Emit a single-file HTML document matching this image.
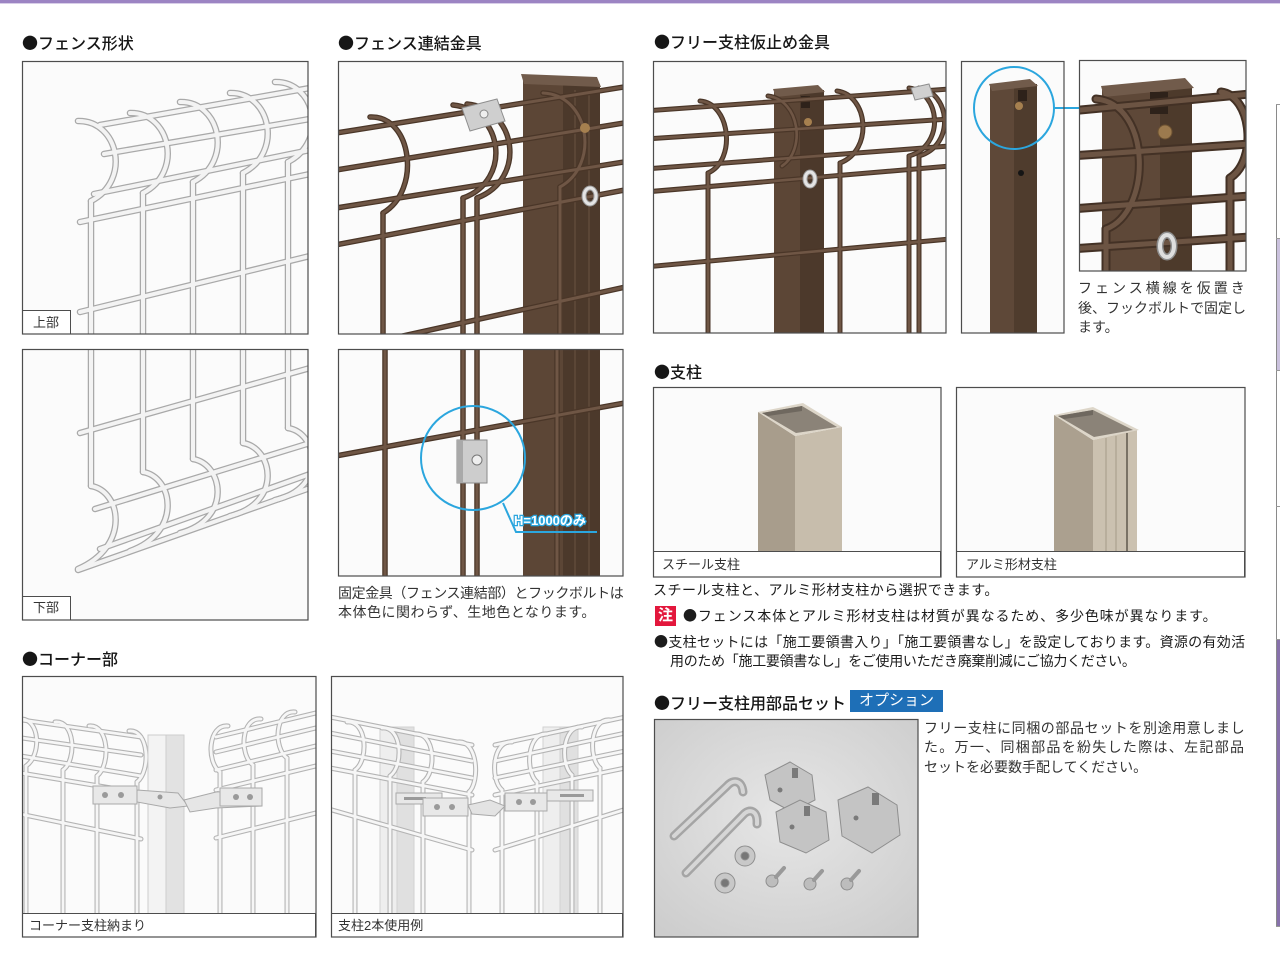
<!DOCTYPE html>
<html><head><meta charset="utf-8">
<style>
html,body{margin:0;padding:0}
body{width:1280px;height:963px;position:relative;overflow:hidden;background:#fff;font-family:"Liberation Sans","Noto Sans CJK JP",sans-serif;color:#222}
svg{position:absolute;left:0;top:0}
.t{position:absolute;white-space:nowrap;line-height:1.2}
.h{font-size:16px;color:#161616;font-weight:500}
.p{font-size:14px;color:#1c1c1c}
.c{font-size:14px;color:#333}
.l{font-size:13px;color:#333}
.b{font-family:"Noto Sans CJK JP",sans-serif}
.note{position:absolute;left:655px;top:606px;width:21px;height:20px;background:#e3173c;color:#fff;font-size:15px;font-weight:bold;line-height:20px;text-align:center}
.opt{position:absolute;left:850px;top:690px;width:93px;height:22px;background:#1e6fb7;color:#fff;font-size:15px;line-height:22px;text-align:center}
</style></head><body>
<svg width="1280" height="963" viewBox="0 0 1280 963">
<defs>
 <clipPath id="c1"><rect x="22" y="61" width="286" height="273"/></clipPath>
 <clipPath id="c2"><rect x="22" y="349" width="286" height="271"/></clipPath>
 <clipPath id="c3"><rect x="338" y="61" width="285" height="273"/></clipPath>
 <clipPath id="c4"><rect x="338" y="349" width="285" height="227"/></clipPath>
 <clipPath id="c5"><rect x="653" y="61" width="293" height="272"/></clipPath>
 <clipPath id="c6"><rect x="961" y="61" width="103" height="272"/></clipPath>
 <clipPath id="c7"><rect x="1079" y="60" width="167" height="211"/></clipPath>
 <clipPath id="c8"><rect x="653" y="387" width="288" height="164"/></clipPath>
 <clipPath id="c9"><rect x="956" y="387" width="289" height="164"/></clipPath>
 <clipPath id="c10"><rect x="654" y="719" width="264" height="218"/></clipPath>
 <clipPath id="c11"><rect x="22" y="676" width="294" height="237"/></clipPath>
 <clipPath id="c12"><rect x="331" y="676" width="292" height="237"/></clipPath>
 <radialGradient id="pg" cx="0.5" cy="0.45" r="0.7">
  <stop offset="0" stop-color="#e6e6e6"/><stop offset="1" stop-color="#cdcdcd"/>
 </radialGradient>

 <g id="w1" fill="none" stroke-linecap="round">
  <path d="M100,125 L310,88"/><path d="M104,154 L310,119"/><path d="M94,194 L310,150"/>
  <path d="M80,222 L310,174"/><path d="M80,312 L310,256"/>
  <path d="M91,201 V340"/><path d="M143,193 V340"/><path d="M193,182 V340"/><path d="M243,173 V340"/><path d="M288,162 V340"/>
  <path d="M78,121 C118,120 132,180 91,201"/>
  <path d="M130,113 C170,112 184,172 143,193"/>
  <path d="M180,102 C220,101 234,161 193,182"/>
  <path d="M230,93 C270,92 284,152 243,173"/>
  <path d="M275,82 C315,81 329,141 288,162"/>
 </g>
 <g id="w2" fill="none" stroke-linecap="round">
  <path d="M91,345 V486"/><path d="M143,345 V472"/><path d="M193,345 V459"/><path d="M243,345 V443"/><path d="M288,345 V428"/>
  <path d="M91,486 C121,491 131,546 78,569"/>
  <path d="M143,472 C173,477 183,532 130,551"/>
  <path d="M193,459 C223,464 233,519 180,533"/>
  <path d="M243,443 C273,448 283,503 230,516"/>
  <path d="M288,428 C318,433 328,488 275,500"/>
  <path d="M80,433 L310,368"/><path d="M95,509 L310,443"/><path d="M78,570 L310,488"/><path d="M100,549 L310,474"/>
 </g>
 <g id="w3" fill="none" stroke-linecap="round">
  <path d="M330,134 L630,86"/><path d="M330,171 L630,122"/><path d="M330,209 L630,161"/>
  <path d="M330,246 L630,189"/><path d="M330,352 L630,286"/>
  <path d="M383,213 V340"/><path d="M463,198 V340"/><path d="M477,198 V340"/><path d="M560,187 V340"/>
  <path d="M370,117 C412,115 422,190 383,213"/>
  <path d="M453,105 C503,110 513,180 463,198"/>
  <path d="M467,104 C517,109 527,179 477,198"/>
  <path d="M543,93 C590,95 600,165 560,187"/>
 </g>
 <g id="w4" fill="none" stroke-linecap="round">
  <path d="M385,340 V580"/><path d="M463,340 V580"/><path d="M477,340 V580"/><path d="M557,340 V580"/>
  <path d="M330,457 L630,402"/>
 </g>
 <g id="w5" fill="none" stroke-linecap="round">
  <path d="M645,111 L950,89"/><path d="M645,139 L950,119"/><path d="M645,169 L950,146"/>
  <path d="M645,192 L950,166"/><path d="M645,267 L950,239"/>
  <path d="M708,173 V340"/><path d="M840,163 V340"/><path d="M909,156 V340"/><path d="M919,156 V340"/>
  <path d="M700,101 C730,103 737,160 708,173"/>
  <path d="M768,96 C800,100 806,150 782,166"/>
  <path d="M837,91 C868,95 874,150 840,163"/>
  <path d="M909,88 C940,92 946,145 909,156"/>
  <path d="M919,88 C950,92 956,145 919,156"/>
 </g>
 <g id="w7" fill="none" stroke-linecap="round">
  <path d="M1070,111 L1250,94"/><path d="M1070,156 L1250,144"/><path d="M1070,209 L1250,196"/><path d="M1070,249 L1250,237"/>
  <path d="M1096,99 C1152,104 1152,212 1106,229"/><path d="M1106,229 V280"/>
  <path d="M1221,92 C1252,96 1258,160 1230,178"/><path d="M1230,178 V280"/>
 </g>
 <g id="w11" fill="none" stroke-linecap="round">
  <path d="M15,719 L141,737"/><path d="M15,737 L141,755"/><path d="M15,755 L141,776"/><path d="M15,772 L141,793"/><path d="M15,813 L141,839"/>
  <path d="M26,766 V913"/><path d="M63,770 V913"/><path d="M97,776 V913"/><path d="M137,782 V913"/>
  <path d="M20,719 C40,718 42,755 26,766"/>
  <path d="M55,722 C75,720 77,760 63,770"/>
  <path d="M89,726 C109,724 111,765 97,776"/>
  <path d="M129,731 C149,729 151,771 137,782"/>
  <path d="M216,737 L320,712"/><path d="M216,752 L320,727"/><path d="M216,770 L320,745"/><path d="M216,790 L320,765"/><path d="M216,838 L320,812"/>
  <path d="M220,772 V913"/><path d="M253,765 V913"/><path d="M287,758 V913"/>
  <path d="M228,726 C208,724 206,762 220,772"/>
  <path d="M261,719 C241,717 239,755 253,765"/>
  <path d="M295,712 C275,710 273,748 287,758"/>
 </g>
 <g id="w12" fill="none" stroke-linecap="round">
  <path d="M325,716 L472,745"/><path d="M325,732 L472,761"/><path d="M325,750 L472,778"/><path d="M325,767 L472,795"/><path d="M325,808 L472,850"/>
  <path d="M355,770 V913"/><path d="M390,776 V913"/><path d="M423,782 V913"/><path d="M469,792 V913"/>
  <path d="M347,722 C367,720 369,760 355,770"/>
  <path d="M382,728 C402,726 404,766 390,776"/>
  <path d="M415,734 C435,732 437,772 423,782"/>
  <path d="M458,742 C478,740 480,782 469,792"/>
  <path d="M495,745 L630,716"/><path d="M495,761 L630,732"/><path d="M495,778 L630,750"/><path d="M495,795 L630,767"/><path d="M495,850 L630,808"/>
  <path d="M502,790 V913"/><path d="M537,782 V913"/><path d="M572,775 V913"/><path d="M600,768 V913"/>
  <path d="M512,742 C492,740 490,780 502,790"/>
  <path d="M547,734 C527,732 525,772 537,782"/>
  <path d="M582,727 C562,725 560,765 572,775"/>
  <path d="M610,720 C590,718 588,758 600,768"/>
 </g>
</defs>

<!-- top bar -->
<rect x="0" y="0" width="1280" height="3" fill="#9c84c3"/>
<rect x="0" y="3" width="1280" height="1" fill="#d8cee8"/>

<!-- right strip -->
<line x1="1276.5" y1="104" x2="1276.5" y2="926" stroke="#8a8a8a"/>
<rect x="1277" y="238" width="3" height="132" fill="#cbc2de"/>
<rect x="1277" y="639" width="3" height="287" fill="#8771ab"/>
<g stroke="#999"><line x1="1276" y1="104.5" x2="1280" y2="104.5"/><line x1="1276" y1="238.5" x2="1280" y2="238.5"/><line x1="1276" y1="370.5" x2="1280" y2="370.5"/><line x1="1276" y1="506.5" x2="1280" y2="506.5"/><line x1="1276" y1="639.5" x2="1280" y2="639.5"/><line x1="1276" y1="926.5" x2="1280" y2="926.5"/></g>

<!-- Panel 1 -->
<g clip-path="url(#c1)">
 <rect x="22" y="61" width="286" height="273" fill="#fbfbfb"/>
 <use href="#w1" stroke="#a9a9a9" stroke-width="6.5"/>
 <use href="#w1" stroke="#f3f3f3" stroke-width="4"/>
</g>
<!-- Panel 2 -->
<g clip-path="url(#c2)">
 <rect x="22" y="349" width="286" height="271" fill="#fbfbfb"/>
 <use href="#w2" stroke="#a9a9a9" stroke-width="6.5"/>
 <use href="#w2" stroke="#f3f3f3" stroke-width="4"/>
</g>

<!-- Panel 3 -->
<g clip-path="url(#c3)">
 <rect x="338" y="61" width="285" height="273" fill="#fbfbfb"/>
 <rect x="523" y="80" width="40" height="260" fill="#5c4636"/>
 <rect x="563" y="84" width="37" height="256" fill="#4c392b"/>
 <line x1="575" y1="90" x2="575" y2="340" stroke="#6a5342"/>
 <line x1="589" y1="90" x2="589" y2="340" stroke="#6a5342"/>
 <polygon points="521,74 597,77 601,87 524,84" fill="#715b4b"/>
 <use href="#w3" stroke="#4a3628" stroke-width="5.5"/>
 <use href="#w3" stroke="#6f5645" stroke-width="3"/>
 <polygon points="462,108 497,99 505,121 470,131" fill="#cfcfcf" stroke="#8e8e8e"/>
 <circle cx="484" cy="114" r="4" fill="#eee" stroke="#888"/>
 <circle cx="585" cy="128" r="5" fill="#a6804f"/>
 <ellipse cx="590" cy="196" rx="6" ry="8" fill="none" stroke="#9a9a9a" stroke-width="5"/>
 <ellipse cx="590" cy="196" rx="6" ry="8" fill="none" stroke="#e4e4e4" stroke-width="3"/>
</g>

<!-- Panel 4 -->
<g clip-path="url(#c4)">
 <rect x="338" y="349" width="285" height="227" fill="#fbfbfb"/>
 <rect x="523" y="340" width="40" height="240" fill="#5c4636"/>
 <rect x="563" y="340" width="37" height="240" fill="#4c392b"/>
 <line x1="575" y1="340" x2="575" y2="580" stroke="#6a5342"/>
 <line x1="589" y1="340" x2="589" y2="580" stroke="#6a5342"/>
 <use href="#w4" stroke="#4a3628" stroke-width="5.5"/>
 <use href="#w4" stroke="#6f5645" stroke-width="3"/>
 <rect x="457" y="440" width="30" height="43" fill="#cdcdcd" stroke="#8a8a8a"/>
 <rect x="457" y="440" width="6" height="43" fill="#a9a9a9"/>
 <circle cx="477" cy="460" r="5" fill="#eee" stroke="#777"/>
 <circle cx="473" cy="458" r="52" fill="none" stroke="#2ba6de" stroke-width="2"/>
 <polyline points="503,503 516,532 597,532" fill="none" stroke="#2ba6de" stroke-width="2"/>
 <text x="514" y="525" font-size="13" font-weight="bold" fill="#fff" stroke="#2ba6de" stroke-width="2.5" paint-order="stroke" font-family="Liberation Sans, Noto Sans CJK JP, sans-serif">H=1000のみ</text>
</g>

<!-- Panel 5 -->
<g clip-path="url(#c5)">
 <rect x="653" y="61" width="293" height="272" fill="#fbfbfb"/>
 <rect x="774" y="92" width="26" height="250" fill="#5c4636"/>
 <rect x="800" y="90" width="24" height="252" fill="#4c392b"/>
 <polygon points="773,89 818,85 825,92 776,97" fill="#715b4b"/>
 <rect x="801" y="96" width="9" height="12" fill="#2e221a"/>
 <use href="#w5" stroke="#4a3628" stroke-width="5"/>
 <use href="#w5" stroke="#6f5645" stroke-width="2.6"/>
 <circle cx="808" cy="122" r="4" fill="#a6804f"/>
 <polygon points="911,88 929,84 933,96 915,100" fill="#d0d0d0" stroke="#8e8e8e"/>
 <ellipse cx="810" cy="179" rx="5" ry="7" fill="none" stroke="#9a9a9a" stroke-width="5"/>
 <ellipse cx="810" cy="179" rx="5" ry="7" fill="none" stroke="#e4e4e4" stroke-width="3"/>
</g>

<!-- Panel 6 -->
<g clip-path="url(#c6)">
 <rect x="961" y="61" width="103" height="272" fill="#fbfbfb"/>
 <rect x="990" y="86" width="24" height="256" fill="#5e4838"/>
 <rect x="1014" y="84" width="23" height="258" fill="#4f3c2d"/>
 <polygon points="989,84 1030,79 1038,86 992,91" fill="#715b4b"/>
 <rect x="1018" y="90" width="9" height="11" fill="#2e221a"/>
 <circle cx="1019" cy="106" r="4" fill="#a6804f"/>
 <circle cx="1021" cy="173" r="3" fill="#151515"/>
 <ellipse cx="1014" cy="108" rx="40" ry="41" fill="none" stroke="#2ba6de" stroke-width="2"/>
</g>
<line x1="1055" y1="108" x2="1080" y2="108" stroke="#2ba6de" stroke-width="2"/>

<!-- Panel 7 -->
<g clip-path="url(#c7)">
 <rect x="1079" y="60" width="167" height="211" fill="#fbfbfb"/>
 <rect x="1102" y="90" width="58" height="190" fill="#5e4838"/>
 <rect x="1160" y="88" width="32" height="192" fill="#4d3a2b"/>
 <polygon points="1101,86 1185,78 1194,88 1104,97" fill="#715b4b"/>
 <rect x="1150" y="92" width="18" height="22" fill="#2e221a"/>
 <use href="#w7" stroke="#433125" stroke-width="9"/>
 <use href="#w7" stroke="#6c5443" stroke-width="5"/>
 <circle cx="1165" cy="132" r="7" fill="#9c7a4e" stroke="#6d5232"/>
 <ellipse cx="1167" cy="246" rx="7" ry="11" fill="none" stroke="#8e8e8e" stroke-width="7"/>
 <ellipse cx="1167" cy="246" rx="7" ry="11" fill="none" stroke="#dedede" stroke-width="4"/>
</g>

<!-- Panel 8 steel post -->
<g clip-path="url(#c8)">
 <rect x="653" y="387" width="288" height="164" fill="#fbfbfb"/>
 <polygon points="758,412 795,436 795,552 758,552" fill="#a89d8c"/>
 <polygon points="795,436 842,427 842,552 795,552" fill="#c7bdac"/>
 <polygon points="758,412 803,403 842,427 795,436" fill="#ddd6c9"/>
 <polygon points="762,413 802,406 837,427 796,433" fill="#8b8378"/>
 <polygon points="762,413 802,406 802,411 768,416" fill="#6f685f"/>
</g>
<!-- Panel 9 alu post -->
<g clip-path="url(#c9)">
 <rect x="956" y="387" width="289" height="164" fill="#fbfbfb"/>
 <polygon points="1054,415 1093,440 1093,552 1054,552" fill="#aba08f"/>
 <polygon points="1093,440 1137,430 1137,552 1093,552" fill="#cbc1b0"/>
 <line x1="1106" y1="438" x2="1106" y2="552" stroke="#a49a89"/>
 <line x1="1116" y1="436" x2="1116" y2="552" stroke="#a49a89"/>
 <line x1="1127" y1="433" x2="1127" y2="552" stroke="#5f574c" stroke-width="1.5"/>
 <polygon points="1054,415 1093,407 1139,430 1093,440" fill="#ddd6c9"/>
 <polygon points="1058,416 1093,410 1133,430 1094,437" fill="#8b8378"/>
 <polygon points="1058,416 1093,410 1093,415 1064,419" fill="#6f685f"/>
</g>

<!-- Panel 10 parts -->
<g clip-path="url(#c10)">
 <rect x="654" y="719" width="264" height="218" fill="url(#pg)"/>
 <g fill="none" stroke-linecap="round">
  <path d="M674,836 L727,786 C733,779 742,780 743,792" stroke="#a5a5a5" stroke-width="9"/>
  <path d="M674,836 L727,786 C733,779 742,780 743,792" stroke="#d6d6d6" stroke-width="4"/>
  <path d="M686,873 L743,815 C749,808 758,810 757,824" stroke="#a5a5a5" stroke-width="9"/>
  <path d="M686,873 L743,815 C749,808 758,810 757,824" stroke="#d6d6d6" stroke-width="4"/>
 </g>
 <g stroke="#8e8e8e" fill="#c4c4c4">
  <polygon points="765,775 790,762 812,775 815,800 792,812 770,800"/>
  <polygon points="776,812 800,800 826,812 829,840 806,853 780,842"/>
  <polygon points="838,800 868,787 897,805 900,835 872,853 842,836"/>
 </g>
 <g fill="#7a7a7a">
  <rect x="792" y="768" width="6" height="10"/><rect x="804" y="806" width="6" height="10"/><rect x="872" y="793" width="7" height="12"/>
  <circle cx="780" cy="790" r="2.5"/><circle cx="792" cy="827" r="2.5"/><circle cx="856" cy="818" r="2.5"/>
 </g>
 <g stroke="#8f8f8f">
  <circle cx="745" cy="856" r="10" fill="#c8c8c8"/><circle cx="745" cy="856" r="4" fill="#777"/>
  <circle cx="725" cy="883" r="10" fill="#c8c8c8"/><circle cx="725" cy="883" r="4" fill="#777"/>
  <circle cx="772" cy="881" r="6" fill="#bdbdbd"/><circle cx="810" cy="884" r="6" fill="#bdbdbd"/><circle cx="847" cy="884" r="6" fill="#bdbdbd"/>
 </g>
 <g stroke="#999" stroke-width="4" stroke-linecap="round"><line x1="776" y1="877" x2="784" y2="868"/><line x1="814" y1="880" x2="822" y2="871"/><line x1="851" y1="880" x2="859" y2="871"/></g>
</g>

<!-- Panel 11 corner -->
<g clip-path="url(#c11)">
 <rect x="22" y="676" width="294" height="237" fill="#fbfbfb"/>
 <use href="#w11" stroke="#b4b4b4" stroke-width="5"/>
 <use href="#w11" stroke="#f6f6f6" stroke-width="2.8"/>
 <rect x="148" y="735" width="18" height="180" fill="#f3f3f3" stroke="#cdcdcd"/>
 <rect x="166" y="735" width="18" height="180" fill="#e2e2e2" stroke="#cdcdcd"/>
 <polygon points="137,790 178,793 188,806 170,808 137,802" fill="#e6e6e6" stroke="#a9a9a9"/>
 <polygon points="184,800 216,792 262,790 262,806 216,808 190,812" fill="#e6e6e6" stroke="#a9a9a9"/>
 <rect x="93" y="786" width="44" height="18" fill="#e8e8e8" stroke="#a9a9a9"/>
 <rect x="220" y="788" width="42" height="18" fill="#e8e8e8" stroke="#a9a9a9"/>
 <g fill="#9a9a9a"><circle cx="105" cy="795" r="3"/><circle cx="121" cy="795" r="3"/><circle cx="236" cy="797" r="3"/><circle cx="250" cy="797" r="3"/><circle cx="160" cy="797" r="2.5"/></g>
</g>

<!-- Panel 12 corner two posts -->
<g clip-path="url(#c12)">
 <rect x="331" y="676" width="292" height="237" fill="#fbfbfb"/>
 <rect x="380" y="727" width="17" height="190" fill="#eeeeee" stroke="#d2d2d2"/>
 <rect x="397" y="727" width="17" height="190" fill="#e0e0e0" stroke="#d2d2d2"/>
 <rect x="543" y="727" width="17" height="190" fill="#eeeeee" stroke="#d2d2d2"/>
 <rect x="560" y="727" width="18" height="190" fill="#e0e0e0" stroke="#d2d2d2"/>
 <use href="#w12" stroke="#b4b4b4" stroke-width="5"/>
 <use href="#w12" stroke="#f6f6f6" stroke-width="2.8"/>
 <rect x="396" y="793" width="46" height="11" fill="#e8e8e8" stroke="#a9a9a9"/>
 <rect x="404" y="797" width="22" height="3" fill="#9a9a9a"/>
 <rect x="423" y="798" width="45" height="18" fill="#e8e8e8" stroke="#a9a9a9"/>
 <rect x="505" y="793" width="42" height="18" fill="#e8e8e8" stroke="#a9a9a9"/>
 <rect x="547" y="790" width="46" height="11" fill="#e8e8e8" stroke="#a9a9a9"/>
 <rect x="560" y="794" width="24" height="3" fill="#9a9a9a"/>
 <polygon points="468,805 490,800 505,806 495,816 472,814" fill="#e3e3e3" stroke="#a9a9a9"/>
 <g fill="#9a9a9a"><circle cx="437" cy="807" r="3"/><circle cx="452" cy="807" r="3"/><circle cx="519" cy="802" r="3"/><circle cx="533" cy="802" r="3"/></g>
</g>

<!-- label boxes -->
<g fill="#fff" stroke="#4d4d4d" stroke-width="1">
 <rect x="22.5" y="310.5" width="48" height="23.5"/>
 <rect x="22.5" y="596.5" width="48" height="23.5"/>
 <rect x="653.5" y="551.5" width="287" height="25.5"/>
 <rect x="956.5" y="551.5" width="288" height="25.5"/>
 <rect x="22.5" y="913.5" width="293" height="23.5"/>
 <rect x="331.5" y="913.5" width="291" height="23.5"/>
</g>
<!-- panel borders -->
<g fill="none" stroke="#4d4d4d" stroke-width="1.2">
 <rect x="22.5" y="61.5" width="285.5" height="272.5"/>
 <rect x="22.5" y="349.5" width="285.5" height="270.5"/>
 <rect x="338.5" y="61.5" width="284.5" height="272.5"/>
 <rect x="338.5" y="349.5" width="284.5" height="226.5"/>
 <rect x="653.5" y="61.5" width="292.5" height="271.5"/>
 <rect x="961.5" y="61.5" width="102.5" height="271.5"/>
 <rect x="1079.5" y="60.5" width="166.5" height="210.5"/>
 <rect x="653.5" y="387.5" width="287.5" height="189.5"/>
 <rect x="956.5" y="387.5" width="288.5" height="189.5"/>
 <rect x="654.5" y="719.5" width="263.5" height="217.5"/>
 <rect x="22.5" y="676.5" width="293.5" height="260.5"/>
 <rect x="331.5" y="676.5" width="291.5" height="260.5"/>
</g>
</svg>

<!-- headings -->
<div class="t h" style="left:22px;top:33px"><span class="b">●</span>フェンス形状</div>
<div class="t h" style="left:338px;top:33px"><span class="b">●</span>フェンス連結金具</div>
<div class="t h" style="left:654px;top:32px"><span class="b">●</span>フリー支柱仮止め金具</div>
<div class="t h" style="left:654px;top:362px"><span class="b">●</span>支柱</div>
<div class="t h" style="left:22px;top:649px"><span class="b">●</span>コーナー部</div>
<div class="t h" style="left:654px;top:693px"><span class="b">●</span>フリー支柱用部品セット</div>
<div class="opt">オプション</div>

<!-- labels -->
<div class="t l" style="left:33px;top:315px">上部</div>
<div class="t l" style="left:33px;top:600px">下部</div>
<div class="t l" style="left:662px;top:557px">スチール支柱</div>
<div class="t l" style="left:966px;top:557px">アルミ形材支柱</div>
<div class="t l" style="left:29px;top:918px">コーナー支柱納まり</div>
<div class="t l" style="left:338px;top:918px">支柱2本使用例</div>

<!-- captions -->
<div class="t c" style="left:338px;top:585px;letter-spacing:-0.4px">固定金具（フェンス連結部）とフックボルトは</div>
<div class="t c" style="left:338px;top:604px;letter-spacing:0.5px">本体色に関わらず、生地色となります。</div>
<div class="t c" style="left:1078px;top:280px;letter-spacing:3px">フェンス横線を仮置き</div>
<div class="t c" style="left:1078px;top:300px">後、フックボルトで固定し</div>
<div class="t c" style="left:1078px;top:319px">ます。</div>

<!-- body -->
<div class="t p" style="left:653px;top:582px;letter-spacing:0.5px">スチール支柱と、アルミ形材支柱から選択できます。</div>
<div class="note">注</div>
<div class="t p" style="left:683px;top:608px;letter-spacing:0.9px"><span class="b">●</span>フェンス本体とアルミ形材支柱は材質が異なるため、多少色味が異なります。</div>
<div class="t p" style="left:654px;top:634px;letter-spacing:0.3px"><span class="b">●</span>支柱セットには「施工要領書入り」「施工要領書なし」を設定しております。資源の有効活</div>
<div class="t p" style="left:670px;top:653px;letter-spacing:-0.3px">用のため「施工要領書なし」をご使用いただき廃棄削減にご協力ください。</div>

<div class="t c" style="left:924px;top:720px;letter-spacing:0.6px">フリー支柱に同梱の部品セットを別途用意しまし</div>
<div class="t c" style="left:924px;top:739px;letter-spacing:1.3px">た。万一、同梱部品を紛失した際は、左記部品</div>
<div class="t c" style="left:924px;top:759px">セットを必要数手配してください。</div>
</body></html>
